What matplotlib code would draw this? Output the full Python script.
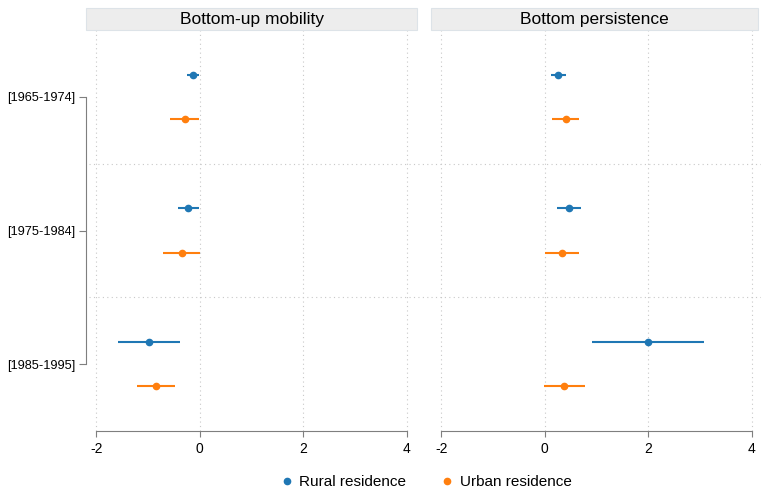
import matplotlib.pyplot as plt
import numpy as np
from matplotlib.lines import Line2D
from matplotlib.patches import Rectangle

plt.rcParams['font.family'] = ['Liberation Sans', 'DejaVu Sans']

cohorts = ["[1965-1974]", "[1975-1984]", "[1985-1995]"]
panels = ["Bottom-up mobility", "Bottom persistence"]
groups = ["Rural residence", "Urban residence"]
colors = ["#1f77b4", "#ff7f0e"]

# point estimates and 95% CI, per panel -> per group -> per cohort
est = {
    "Bottom-up mobility": {"Rural residence": [-0.13, -0.23, -0.99],
                           "Urban residence": [-0.29, -0.35, -0.85]},
    "Bottom persistence": {"Rural residence": [0.26, 0.46, 1.99],
                           "Urban residence": [0.40, 0.33, 0.38]},
}
lo = {
    "Bottom-up mobility": {"Rural residence": [-0.24, -0.43, -1.59],
                           "Urban residence": [-0.58, -0.72, -1.22]},
    "Bottom persistence": {"Rural residence": [0.11, 0.24, 0.91],
                           "Urban residence": [0.13, 0.00, -0.01]},
}
hi = {
    "Bottom-up mobility": {"Rural residence": [-0.01, -0.02, -0.39],
                           "Urban residence": [-0.01, 0.00, -0.48]},
    "Bottom persistence": {"Rural residence": [0.41, 0.69, 3.07],
                           "Urban residence": [0.66, 0.67, 0.78]},
}
xticks = [-2, 0, 2, 4]

W, H = 761, 491
fig = plt.figure(figsize=(W / 100, H / 100), dpi=100)
ax1 = fig.add_axes([86 / W, 60 / H, 331 / W, 401 / H])
ax2 = fig.add_axes([431 / W, 60 / H, 327 / W, 401 / H])

pos = np.arange(1, len(cohorts) + 1)
offs = [-0.165, 0.165]
grid_c = "#c8c8c8"

for k, (ax, name) in enumerate(zip([ax1, ax2], panels)):
    for g, c, o in zip(groups, colors, offs):
        e = np.array(est[name][g])
        l = np.array(lo[name][g])
        h = np.array(hi[name][g])
        ax.hlines(pos + o, l, h, color=c, lw=1.5, zorder=3)
        ax.plot(e, pos + o, "o", color=c, ms=4.5, zorder=4)
    ax.set_xlim(-2.2, 4.2 if k == 0 else 4.12)
    ax.set_ylim(3.5, 0.5)
    for x in xticks:
        ax.axvline(x, color=grid_c, lw=0.8, ls=(0, (1, 3)), zorder=0)
    # separators running across the panel gap and out to the edge
    ext = (431 - 86) / 331 if k == 0 else (W - 431) / 327
    x0 = 3 / 331 if k == 0 else 0
    for y in [1.5, 2.5]:
        ax.axhline(y, xmin=x0, xmax=ext, color=grid_c, lw=0.8,
                   ls=(0, (1, 3)), clip_on=False, zorder=0)
    ax.set_xticks(xticks)
    ax.set_xticklabels([str(x) for x in xticks], fontsize=10)
    for s in ["top", "right"]:
        ax.spines[s].set_visible(False)
    ax.spines["bottom"].set_bounds(-2, 4)
    ax.spines["bottom"].set_color("#7f7f7f")
    ax.tick_params(axis="x", length=4, color="#7f7f7f", pad=4)
    # strip header
    ax.add_patch(Rectangle((0, 1.0), 1, 22 / 401, transform=ax.transAxes,
                           facecolor="#ededed", edgecolor="#dde3e8", lw=0.8,
                           clip_on=False))
    ax.text(0.5, 1 + 11 / 401, name, transform=ax.transAxes, ha="center",
            va="center", fontsize=12.5)

ax1.set_yticks(pos)
ax1.set_yticklabels(cohorts, fontsize=9.2)
ax1.spines["left"].set_bounds(1, 3)
ax1.spines["left"].set_color("#7f7f7f")
ax1.tick_params(axis="y", length=5, color="#7f7f7f", pad=3)
ax2.set_yticks([])
ax2.spines["left"].set_visible(False)

handles = [Line2D([], [], marker="o", ls="none", color=c, ms=4.5, label=g)
           for g, c in zip(groups, colors)]
fig.legend(handles=handles, loc="center", bbox_to_anchor=(0.559, 9 / H),
           ncol=2, frameon=False, fontsize=11, handletextpad=0.3,
           columnspacing=2.2, handlelength=1.0, borderpad=0.1)

fig.savefig("out.png", dpi=100)
